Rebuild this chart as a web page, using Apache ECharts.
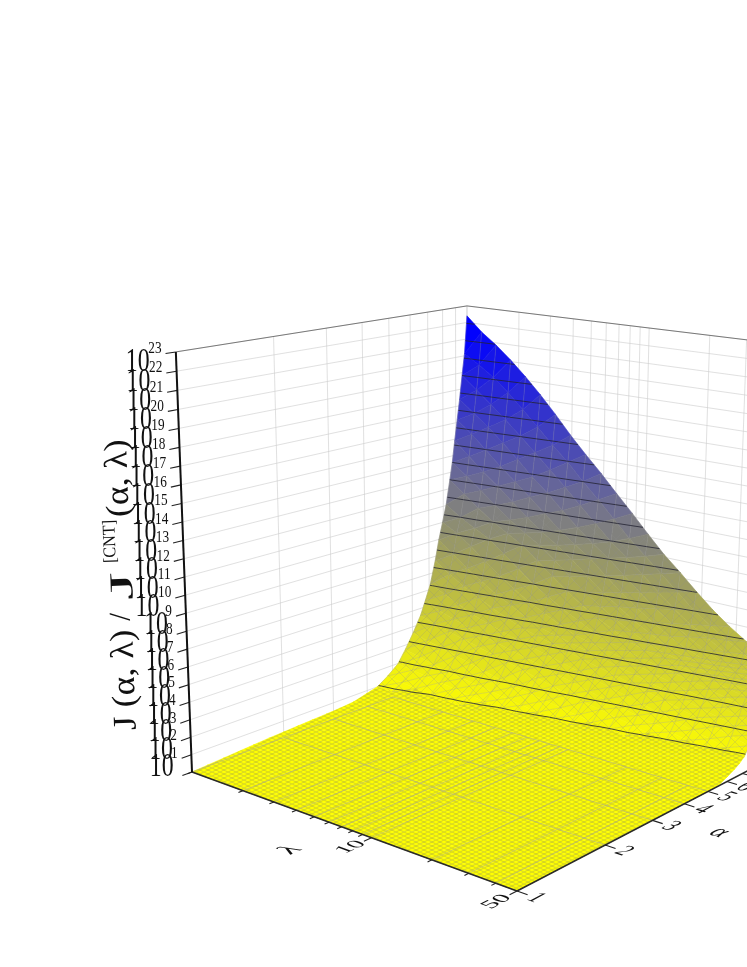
<!DOCTYPE html>
<html><head><meta charset="utf-8">
<style>html,body{margin:0;padding:0;background:#fff}#c{width:747px;height:967px}</style>
<script src="https://cdn.jsdelivr.net/npm/echarts@6/dist/echarts.min.js"></script>
</head><body><div id="c"></div>
<script>
// ---- values ----
const lambdaValues=[1,1.22,1.48,1.8,2.19,2.66,3.24,3.94,4.78,5.82,7.07,8.6,10.46,12.7,15.5,18.8,22.9,27.8,33.8,41.1,50];
const alphaValues=[1,1.12,1.26,1.41,1.58,1.78,2,2.24,2.51,2.82,3.16,3.55,3.98,4.37,4.79,5.25,5.62,6.03,6.46,6.76,7.08,7.41,7.67,7.94,8.22,8.51,8.71,8.91,9.12,9.33,9.55,9.77,10];
// log10 J ratio: one row per alpha, one entry per lambda
const logRatio=[
[0,0,0,0,0,0,0,0,0,0,0,0,0,0,0,0,0,0,0,0,0],
[.06,.02,0,0,0,0,0,0,0,0,0,0,0,0,0,0,0,0,0,0,0],
[.12,.08,.04,0,0,0,0,0,0,0,0,0,0,0,0,0,0,0,0,0,0],
[.18,.14,.1,.06,.01,0,0,0,0,0,0,0,0,0,0,0,0,0,0,0,0],
[.24,.2,.16,.12,.08,.03,0,0,0,0,0,0,0,0,0,0,0,0,0,0,0],
[.3,.26,.22,.18,.14,.1,.05,.01,0,0,0,0,0,0,0,0,0,0,0,0,0],
[.34,.32,.3,.25,.21,.17,.12,.07,.03,0,0,0,0,0,0,0,0,0,0,0,0],
[.39,.36,.34,.32,.29,.24,.2,.15,.1,.04,0,0,0,0,0,0,0,0,0,0,0],
[.43,.41,.38,.36,.34,.31,.28,.23,.18,.13,.07,.02,0,0,0,0,0,0,0,0,0],
[.47,.45,.43,.4,.38,.36,.33,.31,.27,.21,.16,.1,.04,0,0,0,0,0,0,0,0],
[.52,.49,.47,.45,.42,.4,.38,.35,.33,.31,.26,.2,.13,.06,.01,0,0,0,0,0,0],
[.6,.54,.52,.5,.47,.45,.42,.4,.38,.35,.33,.31,.25,.17,.1,.03,0,0,0,0,0],
[.82,.76,.7,.63,.57,.53,.5,.47,.45,.42,.39,.36,.33,.3,.23,.14,.05,.01,0,0,0],
[1.0,.94,.88,.82,.75,.69,.63,.57,.53,.49,.46,.42,.39,.35,.32,.26,.17,.06,.01,0,0],
[1.44,1.3,1.17,1.04,.97,.9,.83,.77,.7,.63,.56,.52,.47,.43,.39,.35,.3,.2,.08,.02,0],
[1.98,1.84,1.71,1.57,1.43,1.29,1.16,1.03,.95,.87,.79,.71,.64,.56,.5,.44,.38,.33,.25,.11,.01],
[2.73,2.49,2.26,2.05,1.9,1.75,1.6,1.45,1.3,1.15,1.02,.93,.84,.75,.66,.57,.5,.43,.35,.25,.07],
[3.6,3.37,3.14,2.9,2.66,2.43,2.19,1.99,1.83,1.66,1.49,1.32,1.16,1.01,.91,.81,.7,.6,.49,.39,.28],
[4.55,4.26,4.0,3.77,3.54,3.31,3.07,2.84,2.6,2.36,2.12,1.92,1.73,1.54,1.35,1.16,1.0,.88,.75,.63,.5],
[5.41,4.97,4.68,4.4,4.12,3.89,3.66,3.42,3.19,2.95,2.71,2.47,2.23,2.0,1.8,1.59,1.38,1.17,.97,.82,.68],
[6.34,5.92,5.51,5.08,4.77,4.5,4.24,4.0,3.77,3.53,3.3,3.06,2.83,2.59,2.35,2.11,1.88,1.64,1.4,1.17,.93],
[7.72,7.1,6.54,6.05,5.63,5.21,4.85,4.6,4.36,4.12,3.89,3.66,3.44,3.21,2.97,2.73,2.48,2.24,1.98,1.71,1.43],
[8.97,8.27,7.59,7.0,6.41,5.94,5.42,5.0,4.79,4.56,4.32,4.1,3.87,3.64,3.4,3.18,2.92,2.69,2.45,2.21,1.95],
[9.99,9.53,8.88,8.16,7.48,6.86,6.27,5.82,5.36,4.95,4.73,4.51,4.29,4.06,3.83,3.6,3.38,3.15,2.91,2.67,2.43],
[11.06,10.43,9.96,9.49,8.78,8.05,7.33,6.76,6.2,5.74,5.24,4.88,4.65,4.43,4.25,4.05,3.83,3.62,3.41,3.2,2.96],
[12.55,11.84,11.14,10.48,9.95,9.43,8.69,7.94,7.22,6.6,6.05,5.57,5.08,4.83,4.63,4.43,4.23,4.02,3.81,3.59,3.38],
[13.59,12.9,12.19,11.44,10.74,10.13,9.58,8.87,8.1,7.35,6.72,6.13,5.63,5.18,4.86,4.66,4.47,4.28,4.07,3.86,3.65],
[14.9,14.09,13.3,12.6,11.8,11.04,10.33,9.74,9.06,8.27,7.5,6.87,6.22,5.7,5.2,4.88,4.7,4.5,4.32,4.13,3.9],
[16.15,15.42,14.62,13.76,13.0,12.24,11.42,10.6,9.93,9.27,8.46,7.67,6.96,6.33,5.75,5.27,4.9,4.73,4.55,4.37,4.18],
[17.38,16.67,15.97,15.16,14.32,13.43,12.63,11.76,10.92,10.15,9.47,8.66,7.85,7.09,6.44,5.89,5.34,4.9,4.76,4.63,4.5],
[18.82,18.08,17.33,16.55,15.72,14.88,13.99,13.11,12.2,11.29,10.4,9.66,8.86,8.03,7.23,6.57,6.0,5.42,4.95,4.83,4.7],
[20.12,19.57,18.96,18.16,17.29,16.37,15.44,14.58,13.59,12.69,11.72,10.76,9.9,9.07,8.21,7.37,6.69,6.06,5.5,4.98,4.85],
[22.4,21.54,20.87,20.09,19.22,18.28,17.25,16.16,15.17,14.21,13.19,12.2,11.16,10.17,9.3,8.4,7.54,6.81,6.16,5.58,5.0]
];
const contourLevels=[1.05,2.09,3.14,4.18,5.23,6.27,7.32,8.36,9.41,10.45,11.5,12.55,13.59,14.64,15.68,16.73,17.77,18.82,19.86,20.91,21.95];
const alphaTicks=[1,2,3,4,5,6,7,8,9,10];
const alphaLabels=[1,2,3,4,5,6];
const lambdaTicks=[1,2,3,4,5,6,7,8,9,10,20,30,40,50];
const lambdaLabels=[10,50];
const exponentTicks=[0,1,2,3,4,5,6,7,8,9,10,11,12,13,14,15,16,17,18,19,20,21,22,23];

// ---- axis scales of the box ----
const alphaMax=10, lambdaMax=50, zMax=23;
const uOf=a=>Math.log10(a)/Math.log10(alphaMax);
const vOf=l=>Math.log10(l)/Math.log10(lambdaMax);
const wOf=z=>z/zMax;
// perspective camera (homogeneous), fitted to the box corners
const cam={o:[192,772,1],a:[351.5,6.54,.1635],l:[254,-3.43,-.13736],z:[-25.81,-439.4,-.0549]};
function project(u,v,w){
  const h=[0,1,2].map(i=>cam.o[i]+u*cam.a[i]+v*cam.l[i]+w*cam.z[i]);
  return [h[0]/h[2],h[1]/h[2]];
}

// ---- build segments ----
const wallGrid=[],topEdges=[],floorGrid=[],axisLines=[],ticks=[];
exponentTicks.forEach(z=>{
  wallGrid.push([[0,0,wOf(z)],[1,0,wOf(z)]]);
  wallGrid.push([[1,0,wOf(z)],[1,1,wOf(z)]]);
});
alphaTicks.forEach(a=>wallGrid.push([[uOf(a),0,0],[uOf(a),0,1]]));
lambdaTicks.forEach(l=>wallGrid.push([[1,vOf(l),0],[1,vOf(l),1]]));
topEdges.push([[0,0,1],[1,0,1]],[[1,0,1],[1,1,1]]);
const floorAlphaEnd=5;
lambdaTicks.forEach(l=>floorGrid.push([[0,vOf(l),0],[uOf(floorAlphaEnd),vOf(l),0]]));
alphaTicks.filter(a=>a<=floorAlphaEnd).forEach(a=>floorGrid.push([[uOf(a),0,0],[uOf(a),1,0]]));
axisLines.push([[0,0,0],[0,1,0]],[[0,1,0],[1,1,0]]);
lambdaTicks.forEach(l=>ticks.push([[0,vOf(l),0],[lambdaLabels.includes(l)?-.024:-.014,vOf(l),0]]));
alphaTicks.forEach(a=>ticks.push([[uOf(a),1,0],[uOf(a),1.028,0]]));
exponentTicks.forEach(z=>ticks.push([[0,0,wOf(z)],[-.03,0,wOf(z)]]));

// ---- facets, back to front ----
const facets=[],meshEdges=[],contourSegs=[];
const node=(i,j)=>[uOf(alphaValues[i]),vOf(lambdaValues[j]),wOf(logRatio[i][j])];
const zAt=n=>logRatio[n[0]][n[1]];
const denseBelow=1.05, diagonalsBelow=11;
function addMesh(p,q){
  if(zAt(p)<denseBelow&&zAt(q)<denseBelow)return;
  meshEdges.push([node(...p),node(...q)]);
}
for(let i=alphaValues.length-2;i>=0;i--){
  for(let j=0;j<lambdaValues.length-1;j++){
    const a=[i+1,j],b=[i+1,j+1],c=[i,j+1],d=[i,j];
    facets.push([a,b,d],[b,c,d]);
    addMesh(b,c);
    if(zAt(b)<diagonalsBelow)addMesh(b,d);
    if(j===0)addMesh(a,d);
    [[a,b,d],[b,c,d]].forEach(t=>{
      contourLevels.forEach(L=>{
        const pts=[];
        for(let e=0;e<3;e++){
          const p=t[e],q=t[(e+1)%3],zp=zAt(p),zq=zAt(q);
          if((zp<L)!==(zq<L)){
            const f=(L-zp)/(zq-zp),np=node(...p),nq=node(...q);
            pts.push([np[0]+f*(nq[0]-np[0]),np[1]+f*(nq[1]-np[1]),wOf(L)]);
          }
        }
        if(pts.length===2)contourSegs.push(pts);
      });
    });
  }
}
const meanZ=f=>(zAt(f[0])+zAt(f[1])+zAt(f[2]))/3;
const denseFacets=facets.filter(f=>meanZ(f)<denseBelow);
const sparseFacets=facets.filter(f=>meanZ(f)>=denseBelow&&meanZ(f)<diagonalsBelow);
function colorOf(z){
  const t=Math.min(1,Math.max(0,(z-.6)/(21.5-.6)));
  return 'rgb('+Math.round(255*(1-t))+','+Math.round(255*(1-t))+','+Math.round(255*t)+')';
}
const font='"Liberation Serif","Times New Roman",serif';

// fine lattice look of the surface skin
function makeTile(w,h,color){
  const t=document.createElement('canvas');t.width=w;t.height=h;
  const g=t.getContext('2d');
  g.strokeStyle=color;g.lineWidth=.8;
  g.beginPath();g.moveTo(0,h/2);g.lineTo(w/2,0);g.lineTo(w,h/2);g.lineTo(w/2,h);g.closePath();g.stroke();
  return t;
}
const denseTile=makeTile(8,4,'rgba(120,120,110,.4)');
const sparseTile=makeTile(14,14,'rgba(140,140,140,.28)');

function segSeries(name,segs,stroke,width,z){
  return {type:'custom',name,coordinateSystem:'cartesian2d',silent:true,animation:false,clip:false,z,progressive:0,
    data:segs.map((s,i)=>[i,0]),
    renderItem(p,api){
      const s=segs[p.dataIndex],a=api.coord(project(...s[0])),b=api.coord(project(...s[1]));
      return {type:'line',shape:{x1:a[0],y1:a[1],x2:b[0],y2:b[1]},style:{stroke,lineWidth:width,fill:null}};
    }};
}
function skinSeries(name,list,tile){
  return {type:'custom',name,coordinateSystem:'cartesian2d',silent:true,animation:false,clip:false,z:3,progressive:0,
    data:list.map((f,i)=>[i,0]),
    renderItem(p,api){
      const pts=list[p.dataIndex].map(n=>api.coord(project(...node(n[0],n[1]))));
      return {type:'polygon',shape:{points:pts},style:{fill:{image:tile,repeat:'repeat'}}};
    }};
}
// flat text lying on the floor plane: affine built from the local axes
function flatText(api,u,v,text,size,dirRight,dirUp,sr,su){
  const c=api.coord(project(u,v,0));
  const e=.01,pu=project(u+e,v,0),pv=project(u,v+e,0),p0=project(u,v,0);
  const nrm=d=>{const n=Math.hypot(d[0],d[1]);return [d[0]/n,d[1]/n];};
  const du=nrm([pu[0]-p0[0],pu[1]-p0[1]]),dv=nrm([pv[0]-p0[0],pv[1]-p0[1]]);
  const pick=k=>k==='+u'?du:k==='-u'?[-du[0],-du[1]]:k==='+v'?dv:[-dv[0],-dv[1]];
  const r=pick(dirRight),up=pick(dirUp);
  const A=r[0]*sr,C=r[1]*sr,B=-up[0]*su,D=-up[1]*su;
  const E=(A+D)/2,F=(A-D)/2,G=(C+B)/2,H=(C-B)/2;
  const Q=Math.hypot(E,H),R=Math.hypot(F,G),a1=Math.atan2(G,F),a2=Math.atan2(H,E);
  const tV=(a2-a1)/2,tU=(a2+a1)/2;
  return {type:'group',x:c[0],y:c[1],rotation:-tU,scaleX:Q+R,scaleY:Q-R,children:[
    {type:'text',rotation:-tV,style:{text:String(text),font:size+'px '+font,fill:'#111',textAlign:'center',textVerticalAlign:'middle',align:'center',verticalAlign:'middle'}}
  ]};
}
const floorLabelItems=[];
alphaLabels.forEach(a=>floorLabelItems.push([uOf(a),1.05,String(a),20,'+v','+u',1,1.25]));
lambdaLabels.forEach(l=>floorLabelItems.push([-.065,vOf(l),String(l),20,'+u','-v',1.25,1]));
floorLabelItems.push([.52,1.15,'α',24,'+v','+u',1,1.1]);
floorLabelItems.push([-.16,.5,'λ',24,'+u','-v',1.2,1]);

const option={
  animation:false,
  grid:{left:0,right:0,top:0,bottom:0},
  xAxis:{type:'value',min:0,max:747,show:false},
  yAxis:{type:'value',min:0,max:967,inverse:true,show:false},
  series:[
    segSeries('wall grid',wallGrid,'rgba(205,205,205,.62)',1,1),
    segSeries('top edges',topEdges,'rgba(80,80,80,.9)',.8,1),
    {type:'custom',name:'surface',coordinateSystem:'cartesian2d',silent:true,animation:false,clip:false,z:2,progressive:0,
      data:facets.map((f,i)=>[i,0]),
      renderItem(p,api){
        const f=facets[p.dataIndex];
        const pts=f.map(n=>api.coord(project(...node(n[0],n[1]))));
        const col=colorOf(meanZ(f));
        return {type:'polygon',shape:{points:pts},style:{fill:col,stroke:col,lineWidth:.6}};
      }},
    skinSeries('surface lattice',denseFacets,denseTile),
    skinSeries('surface lattice upper',sparseFacets,sparseTile),
    segSeries('floor grid',floorGrid,'rgba(165,165,150,.6)',.9,3),
    segSeries('mesh',meshEdges,'rgba(150,150,150,.45)',.6,4),
    segSeries('contours',contourSegs,'rgba(35,35,50,.95)',.85,5),
    segSeries('axes',axisLines,'#2a2a2a',1.6,6),
    segSeries('ticks',ticks,'#222',1.1,6),
    segSeries('z axis',[[[0,0,0],[0,0,1]]],'#111',2,6),
    {type:'custom',name:'floor labels',coordinateSystem:'cartesian2d',silent:true,animation:false,clip:false,z:7,
      data:floorLabelItems.map((f,i)=>[i,0]),
      renderItem(p,api){const f=floorLabelItems[p.dataIndex];return flatText(api,...f);}},
    {type:'custom',name:'z labels',coordinateSystem:'cartesian2d',silent:true,animation:false,clip:false,z:7,
      data:exponentTicks.filter(z=>z>0).map(z=>[z,0]),
      renderItem(p,api){
        const z=api.value(0),t=api.coord(project(-.03,0,wOf(z)));
        const wide=z>=10;
        return {type:'group',children:[
          {type:'text',x:t[0]-(wide?16:8),y:t[1]+9,scaleX:.7,style:{text:'10',font:'34px '+font,fill:'#111',textAlign:'right',textVerticalAlign:'middle',align:'right',verticalAlign:'middle'}},
          {type:'text',x:t[0]-4,y:t[1]-5,scaleX:.78,style:{text:String(z),font:'17px '+font,fill:'#111',textAlign:'right',textVerticalAlign:'middle',align:'right',verticalAlign:'middle'}}
        ]};
      }},
    {type:'custom',name:'z title',coordinateSystem:'cartesian2d',silent:true,animation:false,clip:false,z:7,
      data:[[0,0]],
      renderItem(p,api){
        const rot=92*Math.PI/180;
        const T=(s,size,xy,sc)=>{const c=api.coord(xy);return {type:'text',x:c[0],y:c[1],rotation:rot,scaleX:sc,style:{text:s,font:size+'px '+font,fill:'#111',textAlign:'left',textVerticalAlign:'middle',align:'left',verticalAlign:'middle'}};};
        return {type:'group',children:[
          T('J (α, λ)',33,[127,730],1.08),
          T('/',30,[122,621],1),
          T('J',33,[124,600],2.2),
          T('[CNT]',18,[111,563],.9),
          T('(α, λ)',33,[120,517],1.08)
        ]};
      }}
  ]
};
const chart=echarts.init(document.getElementById('c'),null,{renderer:'canvas'});
chart.setOption(option);
</script></body></html>
